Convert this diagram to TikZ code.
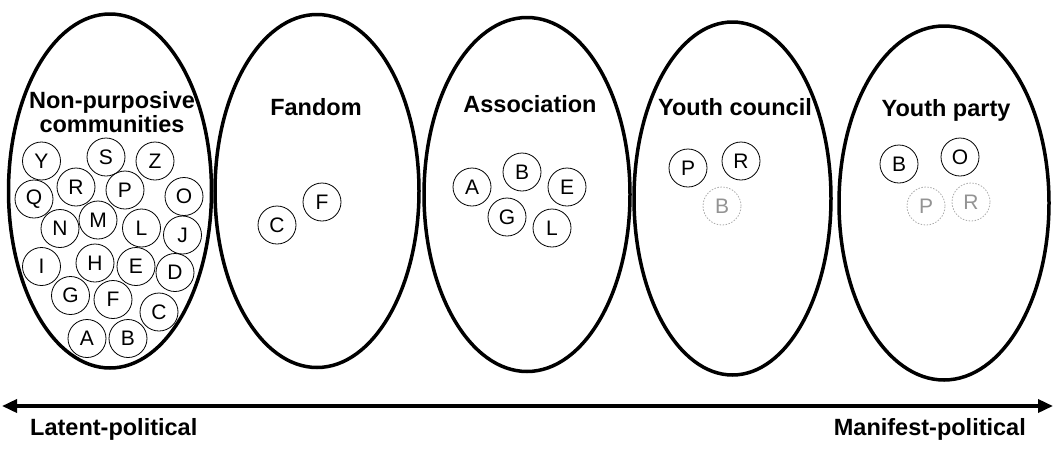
\documentclass[tikz,border=0pt]{standalone}
\usepackage{fontspec}
\setmainfont{Liberation Sans}
\usetikzlibrary{arrows.meta}
\tikzset{
  group/.style={draw, line width=3.5pt},
  member/.style={circle, draw, line width=0.8pt, minimum size=38pt, inner sep=0pt, font=\fontsize{21}{21}\selectfont},
  ghost/.style={circle, draw=gray!65, dash pattern=on 1.5pt off 1.5pt, line width=0.8pt, minimum size=38pt, inner sep=0pt, text=gray!85, font=\fontsize{21}{21}\selectfont},
  title/.style={font=\bfseries\fontsize{23.5}{25}\selectfont, inner sep=0pt, align=center},
  axislabel/.style={font=\bfseries\fontsize{23.5}{25}\selectfont, inner sep=0pt},
}
\begin{document}
\begin{tikzpicture}[x=1pt, y=-1pt]
\useasboundingbox (0,0) rectangle (1058,459);
% groups
\draw[group] (110,191) ellipse [x radius=101.5, y radius=177];
\draw[group] (317,191) ellipse [x radius=102, y radius=176.5];
\draw[group] (527,194.5) ellipse [x radius=103, y radius=177];
\draw[group] (732.5,198.5) ellipse [x radius=98.5, y radius=176.5];
\draw[group] (944,203) ellipse [x radius=105, y radius=177];
% titles
\node[title] (t1) at (112,112) {Non-purposive\\[-1pt]communities};
\node[title, anchor=base] (t2) at (316,115) {Fandom};
\node[title, anchor=base] (t3) at (530,112) {Association};
\node[title, anchor=base] (t4) at (735,115) {Youth council};
\node[title, anchor=base] (t5) at (946,116) {Youth party};
% non-purposive communities
\node[member] (aY) at (41.5,161) {Y};
\node[member] (aS) at (106,157) {S};
\node[member] (aZ) at (155,161) {Z};
\node[member] (aR) at (76,187) {R};
\node[member] (aP) at (125,190) {P};
\node[member] (aQ) at (34,199) {Q};
\node[member] (aO) at (184,196.5) {O};
\node[member] (aM) at (98,220) {M};
\node[member] (aN) at (60,228.5) {N};
\node[member] (aL) at (141.5,228) {L};
\node[member] (aJ) at (182.5,235) {J};
\node[member] (aI) at (41.5,266.5) {I};
\node[member] (aH) at (95,263) {H};
\node[member] (aE) at (136,266.5) {E};
\node[member] (aD) at (175,272.5) {D};
\node[member] (aG) at (70.5,295.5) {G};
\node[member] (aF) at (113,299.5) {F};
\node[member] (aC) at (159,312) {C};
\node[member] (aA) at (87,338.5) {A};
\node[member] (aB) at (128,338.5) {B};
% fandom
\node[member] (bC) at (277,225) {C};
\node[member] (bF) at (322,202) {F};
% association
\node[member] (cA) at (472,187) {A};
\node[member] (cB) at (522,172) {B};
\node[member] (cE) at (567,187) {E};
\node[member] (cG) at (507,217) {G};
\node[member] (cL) at (552,228) {L};
% youth council
\node[member] (dP) at (688,168) {P};
\node[member] (dR) at (741,161) {R};
\node[ghost] (dB) at (722,206) {B};
% youth party
\node[member] (eB) at (899,164) {B};
\node[member] (eO) at (960,157) {O};
\node[ghost] (eP) at (926,206) {P};
\node[ghost] (eR) at (971,202) {R};
% axis
\coordinate (axL) at (2,406);
\coordinate (axR) at (1053,406);
\draw[line width=3.5pt, {Triangle[length=15pt,width=13pt]}-{Triangle[length=15pt,width=13pt]}] (axL) -- (axR);
\node[axislabel, anchor=base west] (lat) at (30,435) {Latent-political};
\node[axislabel, anchor=base east] (man) at (1026,435) {Manifest-political};
\end{tikzpicture}
\end{document}
